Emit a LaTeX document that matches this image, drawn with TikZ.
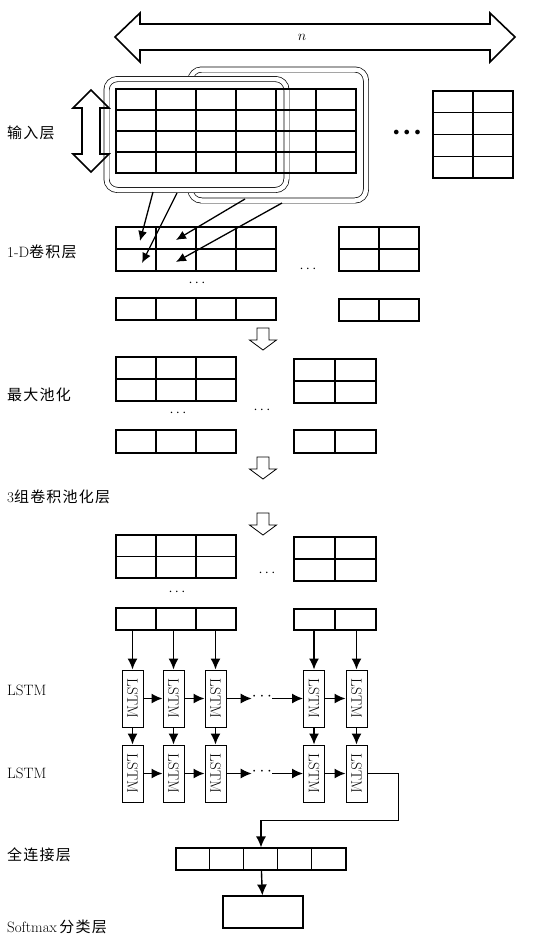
\documentclass[tikz,border=0pt]{standalone}
\usepackage{fontspec}
\newfontfamily\cjk[LetterSpace=8]{Noto Sans CJK SC}
\usetikzlibrary{arrows.meta}

% feature map: x, y (top left), columns, rows, cell width, cell height
\newcommand{\featmap}[6]{%
  \foreach \c in {0,...,#3}
    \draw[map] ({#1+\c*#5},#2) -- ++(0,{#4*#6});
  \foreach \r in {0,...,#4}
    \draw[map] (#1,{#2+\r*#6}) -- ++({#3*#5},0);
}
\newcommand{\lstmtext}{\rotatebox[origin=c]{-90}{LSTM}}

\begin{document}
\begin{tikzpicture}[x=1pt,y=-1pt,
    map/.style={line width=1.1pt, line cap=rect},
    frame/.style={double, double distance=4.5pt, line width=0.7pt, rounded corners=11pt},
    bigarrow/.style={line width=1.6pt, line join=miter},
    hollow/.style={line width=0.8pt},
    arr/.style={line width=1.4pt, -{Latex[length=11pt,width=10pt]}},
    thinarr/.style={line width=1.3pt, -{Latex[length=10pt,width=9pt]}},
    lstm/.style={draw, line width=1pt, inner sep=0pt, minimum width=21pt,
                 minimum height=57pt, font=\fontsize{15}{15}\selectfont},
    lbl/.style={anchor=west, inner sep=0pt, font=\fontsize{15}{16}\selectfont},
    dots/.style={inner sep=0pt, font=\fontsize{14}{14}\selectfont},
    hollowdown/.pic={\draw[hollow] (-6,0) -- (-6,12) -- (-13.5,12) -- (0,22)
                       -- (13.5,12) -- (6,12) -- (6,0) -- cycle;}]
  \useasboundingbox (0,0) rectangle (534,938);

  % Length arrow
  \draw[bigarrow] (115,37) -- (140,13) -- (140,24) -- (490,24) -- (490,13)
    -- (515,37) -- (490,62) -- (490,50) -- (140,50) -- (140,62) -- cycle;
  \node[font=\fontsize{14}{14}\selectfont] (n) at (302,37) {$n$};

  % Input layer
  \draw[frame] (190.5,69.5) rectangle (366,200.5);
  \draw[frame, fill=white] (106.5,79) rectangle (286.5,190);
  \featmap{116}{89}{6}{4}{40}{21}
  \featmap{433}{91}{2}{4}{40}{21.75}
  \node[dots, font=\fontsize{12}{12}\selectfont] (d0) at (407,133) {$\bullet\,\bullet\,\bullet$};
  \draw[bigarrow] (91,90) -- (73,108) -- (82,108) -- (82,154) -- (73,154)
    -- (91,172) -- (109,154) -- (100,154) -- (100,108) -- (109,108) -- cycle;

  % 1-D convolution
  \coordinate (s1) at (153,192);
  \coordinate (s2) at (177,193);
  \coordinate (s3) at (245,199);
  \coordinate (s4) at (282,203);
  \coordinate (t1) at (140,241);
  \coordinate (t2) at (142,263);
  \coordinate (t3) at (176,240);
  \coordinate (t4) at (176,262);
  \draw[thinarr] (s1) -- (t1);
  \draw[thinarr] (s2) -- (t2);
  \draw[thinarr] (s3) -- (t3);
  \draw[thinarr] (s4) -- (t4);
  \featmap{116}{227}{4}{2}{40}{22}
  \featmap{339}{227}{2}{2}{40}{22}
  \featmap{116}{298}{4}{1}{40}{22}
  \featmap{339}{299}{2}{1}{40}{22}
  \node[dots] (d1) at (308,269) {$\cdots$};
  \node[dots] (d2) at (197,283) {$\cdots$};
  \pic at (263,328) {hollowdown};

  % Max pooling
  \featmap{116}{357}{3}{2}{40}{22}
  \featmap{294}{359}{2}{2}{41}{22}
  \featmap{116}{430}{3}{1}{40}{23}
  \featmap{294}{430}{2}{1}{41}{23}
  \node[dots] (d3) at (178,413) {$\cdots$};
  \node[dots] (d4) at (262,410) {$\cdots$};
  \pic at (263,457) {hollowdown};

  % 3 conv-pool groups
  \pic at (263,513) {hollowdown};
  \featmap{116}{535}{3}{2}{40}{21.5}
  \featmap{294}{537}{2}{2}{41}{22}
  \featmap{116}{608}{3}{1}{40}{22}
  \featmap{294}{609}{2}{1}{41}{21}
  \node[dots] (d5) at (267,573) {$\cdots$};
  \node[dots] (d6) at (177,592) {$\cdots$};

  % LSTM layers
  \foreach \x [count=\i] in {132.5,173.5,215.5,314,356.5} {
    \coordinate (b\i) at (\x,630);
    \node[lstm] (p\i) at (\x,698.5) {\lstmtext};
    \node[lstm] (q\i) at (\x,773.5) {\lstmtext};
    \draw[arr] (b\i) -- (p\i);
    \draw[arr] (p\i) -- (q\i);
  }
  \node[dots, font=\fontsize{16}{16}\selectfont] (e1) at (262,697) {$\cdots$};
  \node[dots, font=\fontsize{16}{16}\selectfont] (e2) at (262,772) {$\cdots$};
  \draw[arr] (p1) -- (p2);
  \draw[arr] (p2) -- (p3);
  \draw[arr] (p3.east) -- (e1.west |- p3.east);
  \draw[arr] (e1.east |- p4.west) -- (p4.west);
  \draw[arr] (p4) -- (p5);
  \draw[arr] (q1) -- (q2);
  \draw[arr] (q2) -- (q3);
  \draw[arr] (q3.east) -- (e2.west |- q3.east);
  \draw[arr] (e2.east |- q4.west) -- (q4.west);
  \draw[arr] (q4) -- (q5);

  % Fully connected and softmax
  \node[draw, line width=1.1pt, minimum width=170pt, minimum height=22pt,
        inner sep=0pt] (fc) at (261,859) {};
  \foreach \i in {1,...,4}
    \draw[map] ([xshift=\i*34pt]fc.north west) -- ([xshift=\i*34pt]fc.south west);
  \node[draw, line width=1.1pt, minimum width=80pt, minimum height=32pt,
        inner sep=0pt] (sm) at (263,912) {};
  \coordinate (r2) at (398,820);
  \coordinate (r3) at (fc.north |- r2);
  \draw[line width=0.9pt] (q5.east) -| (r2) -- (r3);
  \draw[arr] (r3) -- (fc.north);
  \draw[arr] (fc) -- (sm);

  % Labels
  \node[lbl] (l1) at (7,133) {\cjk 输入层};
  \node[lbl] (l2) at (7,252) {1-D{\cjk 卷积层}};
  \node[lbl] (l3) at (7,395) {\cjk 最大池化};
  \node[lbl] (l4) at (7,497) {3{\cjk 组卷积池化层}};
  \node[lbl] (l5) at (7,690) {LSTM};
  \node[lbl] (l6) at (7,773) {LSTM};
  \node[lbl] (l7) at (7,855) {\cjk 全连接层};
  \node[lbl] (l8) at (7,927) {Softmax\,{\cjk 分类层}};
\end{tikzpicture}
\end{document}
